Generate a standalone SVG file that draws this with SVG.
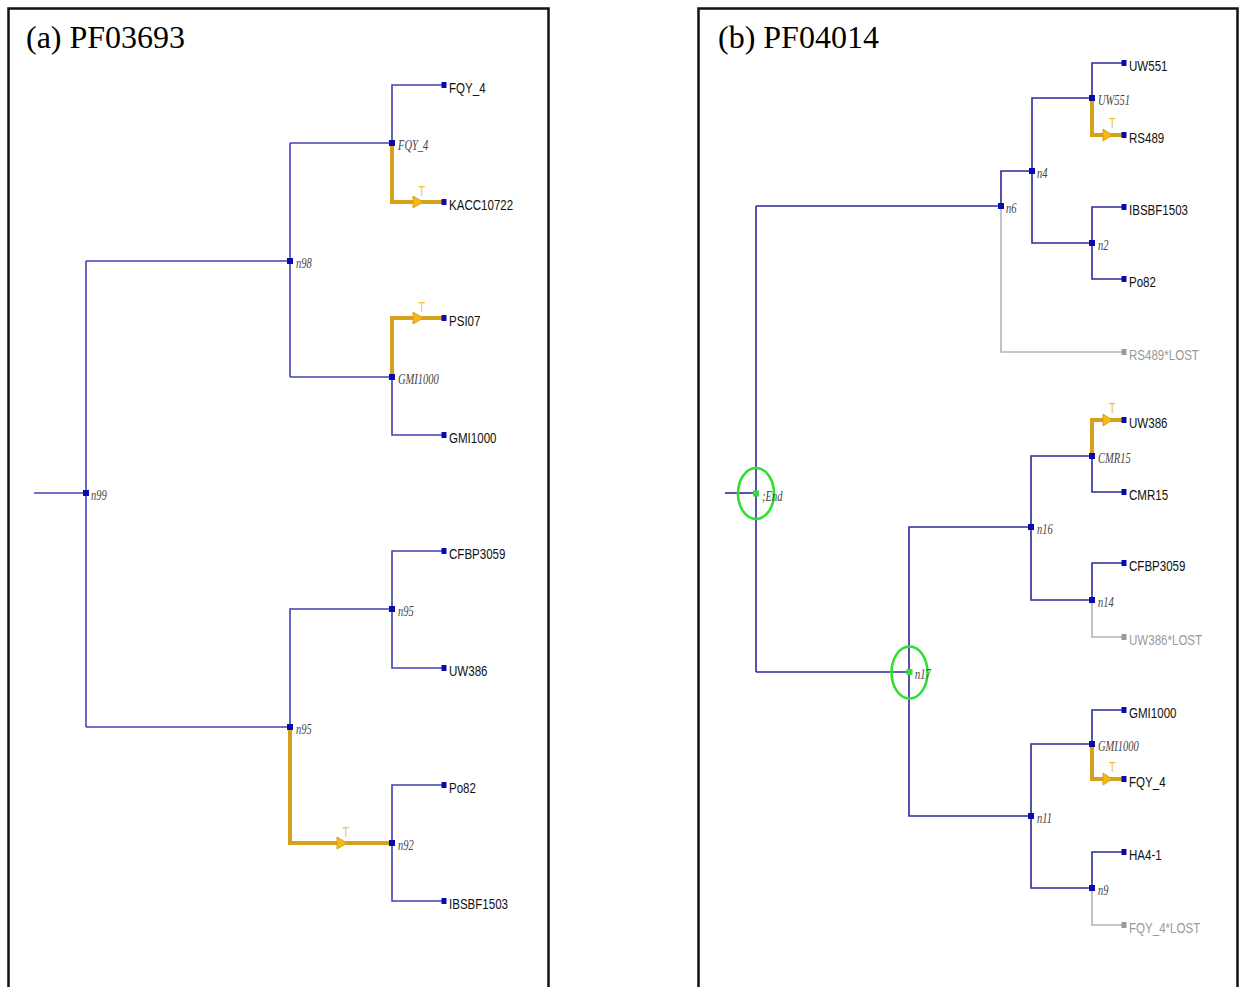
<svg xmlns="http://www.w3.org/2000/svg" width="1239" height="987" viewBox="0 0 1239 987">
<style>
.frame{fill:none;stroke:#111;stroke-width:2.5}
.title{font-family:"Liberation Serif","Times New Roman",serif;font-size:32px;fill:#000}
.ea{fill:none;stroke:#4040b4;stroke-width:1.6}
.eb{fill:none;stroke:#2a2a9c;stroke-width:1.6}
.eg{fill:none;stroke:#b4b4b4;stroke-width:1.6}
.ey{fill:none;stroke:#d6a11a;stroke-width:4;stroke-linejoin:miter}
.arr{fill:#f6b90f;stroke:#d6a11a;stroke-width:1}
.nd{fill:#0a0aa8}
.ndg{fill:#33dd33}
.lostsq{fill:#9a9a9a}
.ring{fill:none;stroke:#2ee02e;stroke-width:2.6}
.leaf{font-family:"Liberation Sans",Arial,sans-serif;font-size:15px;fill:#111}
.lost{font-family:"Liberation Sans",Arial,sans-serif;font-size:15px;fill:#9a9a9a}
.nl{font-family:"Liberation Serif","Times New Roman",serif;font-style:italic;font-size:15px;fill:#444}
.t{font-family:"Liberation Sans",Arial,sans-serif;font-size:14px;fill:#f2c232}
</style>
<rect width="1239" height="987" fill="#fff"/>
<rect class="frame" x="8.5" y="8.5" width="540" height="995"/>
<rect class="frame" x="698.5" y="8.5" width="539" height="995"/>
<text class="title" x="26" y="48">(a) PF03693</text>
<text class="title" x="718" y="48">(b) PF04014</text>

<g id="connectors">
  <!-- panel a -->
  <path class="ea" d="M34,493 H86"/>
  <path class="ea" d="M86,261 V727"/>
  <path class="ea" d="M86,261 H290"/>
  <path class="ea" d="M86,727 H290"/>
  <path class="ea" d="M290,143 V377"/>
  <path class="ea" d="M290,143 H392"/>
  <path class="ea" d="M290,377 H392"/>
  <path class="ea" d="M392,143 V85 H444"/>
  <path class="ea" d="M392,377 V435 H444"/>
  <path class="ea" d="M290,727 V609 H392"/>
  <path class="ea" d="M392,609 V551 H444"/>
  <path class="ea" d="M392,609 V668 H444"/>
  <path class="ea" d="M392,843 V785 H444"/>
  <path class="ea" d="M392,843 V901 H444"/>
  <path class="ey" d="M392,143 V202 H443"/>
  <path class="ey" d="M392,377 V318 H443"/>
  <path class="ey" d="M290,727 V843 H391"/>
  <polygon class="arr" points="413,196 423,202 413,208"/>
  <polygon class="arr" points="413,312 423,318 413,324"/>
  <polygon class="arr" points="337,837 347,843 337,849"/>
  <text class="t" transform="translate(418.5,196) scale(0.77 1)">T</text>
  <text class="t" transform="translate(418.5,312) scale(0.77 1)">T</text>
  <text class="t" transform="translate(342.5,837) scale(0.77 1)">T</text>
  <!-- panel b -->
  <path class="eb" d="M725,493 H756"/>
  <path class="eb" d="M756,206 V672"/>
  <path class="eb" d="M756,206 H1001"/>
  <path class="eb" d="M756,672 H909"/>
  <path class="eb" d="M1001,206 V171 H1032"/>
  <path class="eg" d="M1001,206 V352 H1123"/>
  <path class="eb" d="M1032,171 V98 H1092"/>
  <path class="eb" d="M1032,171 V243 H1092"/>
  <path class="eb" d="M1092,98 V63 H1123"/>
  <path class="eb" d="M1092,243 V207 H1123"/>
  <path class="eb" d="M1092,243 V279 H1123"/>
  <path class="eb" d="M909,672 V527 H1031"/>
  <path class="eb" d="M909,672 V816 H1031"/>
  <path class="eb" d="M1031,527 V456 H1092"/>
  <path class="eb" d="M1031,527 V600 H1092"/>
  <path class="eb" d="M1092,456 V492 H1123"/>
  <path class="eb" d="M1092,600 V563 H1123"/>
  <path class="eg" d="M1092,600 V637 H1123"/>
  <path class="eb" d="M1031,816 V744 H1092"/>
  <path class="eb" d="M1031,816 V888 H1092"/>
  <path class="eb" d="M1092,744 V710 H1123"/>
  <path class="eb" d="M1092,888 V852 H1123"/>
  <path class="eg" d="M1092,888 V925 H1123"/>
  <path class="ey" d="M1092,98 V135 H1122"/>
  <path class="ey" d="M1092,456 V420 H1122"/>
  <path class="ey" d="M1092,744 V779 H1122"/>
  <polygon class="arr" points="1103,129 1112,135 1103,141"/>
  <polygon class="arr" points="1103,414 1112,420 1103,426"/>
  <polygon class="arr" points="1103,773 1112,779 1103,785"/>
  <text class="t" transform="translate(1109,128) scale(0.77 1)">T</text>
  <text class="t" transform="translate(1109,413) scale(0.77 1)">T</text>
  <text class="t" transform="translate(1109,772) scale(0.77 1)">T</text>
</g>

<!-- panel a nodes -->
<g id="a-n99"><rect class="nd" x="83" y="490" width="6" height="6"/><text class="nl" transform="translate(91,500) scale(0.7 1)">n99</text></g>
<g id="a-n98"><rect class="nd" x="287" y="258" width="6" height="6"/><text class="nl" transform="translate(296,268) scale(0.7 1)">n98</text></g>
<g id="a-FQY4-int"><rect class="nd" x="389" y="140" width="6" height="6"/><text class="nl" transform="translate(398,150) scale(0.7 1)">FQY_4</text></g>
<g id="a-GMI1000-int"><rect class="nd" x="389" y="374" width="6" height="6"/><text class="nl" transform="translate(398,384) scale(0.7 1)">GMI1000</text></g>
<g id="a-n95-top"><rect class="nd" x="389" y="606" width="6" height="6"/><text class="nl" transform="translate(398,616) scale(0.7 1)">n95</text></g>
<g id="a-n95-bot"><rect class="nd" x="287" y="724" width="6" height="6"/><text class="nl" transform="translate(296,734) scale(0.7 1)">n95</text></g>
<g id="a-n92"><rect class="nd" x="389" y="840" width="6" height="6"/><text class="nl" transform="translate(398,850) scale(0.7 1)">n92</text></g>
<g id="a-FQY4"><rect class="nd" x="441.5" y="82" width="5" height="6"/><text class="leaf" transform="translate(449,93) scale(0.77 1)">FQY_4</text></g>
<g id="a-KACC10722"><rect class="nd" x="441.5" y="199" width="5" height="6"/><text class="leaf" transform="translate(449,210) scale(0.77 1)">KACC10722</text></g>
<g id="a-PSI07"><rect class="nd" x="441.5" y="315" width="5" height="6"/><text class="leaf" transform="translate(449,326) scale(0.77 1)">PSI07</text></g>
<g id="a-GMI1000"><rect class="nd" x="441.5" y="432" width="5" height="6"/><text class="leaf" transform="translate(449,443) scale(0.77 1)">GMI1000</text></g>
<g id="a-CFBP3059"><rect class="nd" x="441.5" y="548" width="5" height="6"/><text class="leaf" transform="translate(449,559) scale(0.77 1)">CFBP3059</text></g>
<g id="a-UW386"><rect class="nd" x="441.5" y="665" width="5" height="6"/><text class="leaf" transform="translate(449,676) scale(0.77 1)">UW386</text></g>
<g id="a-Po82"><rect class="nd" x="441.5" y="782" width="5" height="6"/><text class="leaf" transform="translate(449,793) scale(0.77 1)">Po82</text></g>
<g id="a-IBSBF1503"><rect class="nd" x="441.5" y="898" width="5" height="6"/><text class="leaf" transform="translate(449,909) scale(0.77 1)">IBSBF1503</text></g>

<!-- panel b nodes -->
<g id="b-End"><ellipse class="ring" cx="756" cy="493.5" rx="18" ry="25.5"/><rect class="ndg" x="753" y="490.5" width="6" height="6"/><text class="nl" transform="translate(762,501) scale(0.7 1)">;End</text></g>
<g id="b-n17"><ellipse class="ring" cx="909.5" cy="672.5" rx="18" ry="26"/><rect class="ndg" x="906.5" y="669" width="6" height="6"/><text class="nl" transform="translate(915,679) scale(0.7 1)">n17</text></g>
<g id="b-n6"><rect class="nd" x="998" y="203" width="6" height="6"/><text class="nl" transform="translate(1006,213) scale(0.7 1)">n6</text></g>
<g id="b-n4"><rect class="nd" x="1029" y="168" width="6" height="6"/><text class="nl" transform="translate(1037,178) scale(0.7 1)">n4</text></g>
<g id="b-UW551-int"><rect class="nd" x="1089" y="95" width="6" height="6"/><text class="nl" transform="translate(1098,105) scale(0.7 1)">UW551</text></g>
<g id="b-n2"><rect class="nd" x="1089" y="240" width="6" height="6"/><text class="nl" transform="translate(1098,250) scale(0.7 1)">n2</text></g>
<g id="b-n16"><rect class="nd" x="1028" y="524" width="6" height="6"/><text class="nl" transform="translate(1037,534) scale(0.7 1)">n16</text></g>
<g id="b-CMR15-int"><rect class="nd" x="1089" y="453" width="6" height="6"/><text class="nl" transform="translate(1098,463) scale(0.7 1)">CMR15</text></g>
<g id="b-n14"><rect class="nd" x="1089" y="597" width="6" height="6"/><text class="nl" transform="translate(1098,607) scale(0.7 1)">n14</text></g>
<g id="b-n11"><rect class="nd" x="1028" y="813" width="6" height="6"/><text class="nl" transform="translate(1037,823) scale(0.7 1)">n11</text></g>
<g id="b-GMI1000-int"><rect class="nd" x="1089" y="741" width="6" height="6"/><text class="nl" transform="translate(1098,751) scale(0.7 1)">GMI1000</text></g>
<g id="b-n9"><rect class="nd" x="1089" y="885" width="6" height="6"/><text class="nl" transform="translate(1098,895) scale(0.7 1)">n9</text></g>
<g id="b-UW551"><rect class="nd" x="1121.5" y="60" width="5" height="6"/><text class="leaf" transform="translate(1129,71) scale(0.77 1)">UW551</text></g>
<g id="b-RS489"><rect class="nd" x="1121.5" y="132" width="5" height="6"/><text class="leaf" transform="translate(1129,143) scale(0.77 1)">RS489</text></g>
<g id="b-IBSBF1503"><rect class="nd" x="1121.5" y="204" width="5" height="6"/><text class="leaf" transform="translate(1129,215) scale(0.77 1)">IBSBF1503</text></g>
<g id="b-Po82"><rect class="nd" x="1121.5" y="276" width="5" height="6"/><text class="leaf" transform="translate(1129,287) scale(0.77 1)">Po82</text></g>
<g id="b-RS489-LOST"><rect class="lostsq" x="1121.5" y="349" width="5" height="6"/><text class="lost" transform="translate(1129,360) scale(0.77 1)">RS489*LOST</text></g>
<g id="b-UW386"><rect class="nd" x="1121.5" y="417" width="5" height="6"/><text class="leaf" transform="translate(1129,428) scale(0.77 1)">UW386</text></g>
<g id="b-CMR15"><rect class="nd" x="1121.5" y="489" width="5" height="6"/><text class="leaf" transform="translate(1129,500) scale(0.77 1)">CMR15</text></g>
<g id="b-CFBP3059"><rect class="nd" x="1121.5" y="560" width="5" height="6"/><text class="leaf" transform="translate(1129,571) scale(0.77 1)">CFBP3059</text></g>
<g id="b-UW386-LOST"><rect class="lostsq" x="1121.5" y="634" width="5" height="6"/><text class="lost" transform="translate(1129,645) scale(0.77 1)">UW386*LOST</text></g>
<g id="b-GMI1000"><rect class="nd" x="1121.5" y="707" width="5" height="6"/><text class="leaf" transform="translate(1129,718) scale(0.77 1)">GMI1000</text></g>
<g id="b-FQY4"><rect class="nd" x="1121.5" y="776" width="5" height="6"/><text class="leaf" transform="translate(1129,787) scale(0.77 1)">FQY_4</text></g>
<g id="b-HA4-1"><rect class="nd" x="1121.5" y="849" width="5" height="6"/><text class="leaf" transform="translate(1129,860) scale(0.77 1)">HA4-1</text></g>
<g id="b-FQY4-LOST"><rect class="lostsq" x="1121.5" y="922" width="5" height="6"/><text class="lost" transform="translate(1129,933) scale(0.77 1)">FQY_4*LOST</text></g>
</svg>
